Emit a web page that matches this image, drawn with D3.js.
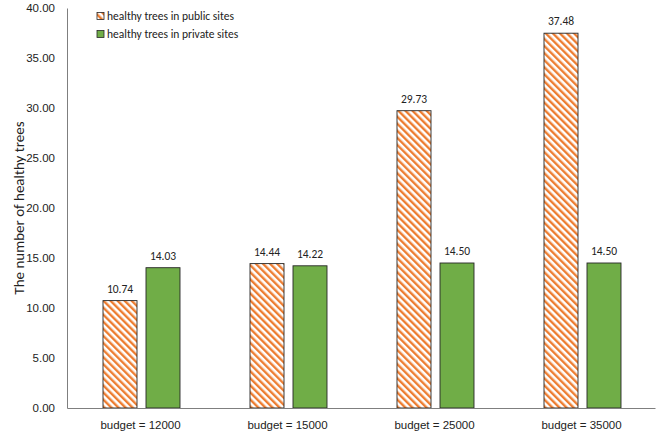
<!DOCTYPE html>
<html lang="en">
<head>
<meta charset="UTF-8">
<title>Healthy trees</title>
<script src="https://cdn.jsdelivr.net/npm/d3@7"></script>
<style>
  body { margin: 0; background: #fff; }
  svg { font-family: Carlito, Calibri, "Liberation Sans", sans-serif; }
</style>
</head>
<body>
<svg id="chart" width="660" height="435"></svg>
<script>
const categories = ['budget = 12000', 'budget = 15000', 'budget = 25000', 'budget = 35000']
const seriesNames = ['healthy trees in public sites', 'healthy trees in private sites']
const publicTrees = [10.74, 14.44, 29.73, 37.48]
const privateTrees = [14.03, 14.22, 14.50, 14.50]
const yTicks = [0, 5, 10, 15, 20, 25, 30, 35, 40]

const margin = { left: 67, right: 5, top: 8, bottom: 27 }
const width = 660, height = 435

const svg = d3.select('#chart')

// hatch for the public bars
const defs = svg.append('defs')
defs.append('pattern')
    .attr('id', 'hatch')
    .attr('patternUnits', 'userSpaceOnUse')
    .attr('width', 5)
    .attr('height', 5)
    .attr('patternTransform', 'rotate(-45)')
  .call(p => {
    p.append('rect').attr('width', 5).attr('height', 5).attr('fill', '#fff')
    p.append('rect').attr('width', 2.4).attr('height', 5).attr('fill', '#ED7D31')
  })

const x = d3.scaleBand()
    .domain(categories)
    .range([margin.left, width - margin.right])

const y = d3.scaleLinear()
    .domain([0, 40])
    .range([height - margin.bottom, margin.top])

const rows = categories.map((c, i) => ({ cat: c, values: [publicTrees[i], privateTrees[i]] }))

const barW = 34, gap = 9
const offset = [-(barW + gap / 2) + 1, gap / 2 + 1]
const fills = ['url(#hatch)', '#70AD47']

// axes
svg.append('g')
    .attr('transform', `translate(${margin.left},0)`)
    .call(d3.axisLeft(y).tickValues(yTicks).tickFormat(d3.format('.2f')).tickSize(0).tickPadding(12))
    .call(g => g.select('.domain').attr('stroke', '#7f7f7f'))
    .call(g => g.selectAll('text').attr('font-size', 11.5).attr('fill', '#222'))

const groups = svg.append('g').selectAll('g')
    .data(rows)
    .join('g')
    .attr('transform', d => `translate(${x(d.cat) + x.bandwidth() / 2},0)`)

groups.selectAll('rect')
    .data(d => d.values)
    .join('rect')
    .attr('x', (d, i) => offset[i])
    .attr('y', d => y(d))
    .attr('width', barW)
    .attr('height', d => y(0) - y(d))
    .attr('fill', (d, i) => fills[i])
    .attr('stroke', '#262626')
    .attr('stroke-width', 0.9)

groups.selectAll('text')
    .data(d => d.values)
    .join('text')
    .attr('x', (d, i) => offset[i] + barW / 2)
    .attr('y', d => y(d) - 8)
    .attr('text-anchor', 'middle')
    .attr('font-size', 11.5)
    .attr('fill', '#222')
    .text(d => d.toFixed(2))

svg.append('g')
    .attr('transform', `translate(0,${height - margin.bottom})`)
    .call(d3.axisBottom(x).tickSize(0).tickPadding(13))
    .call(g => g.select('.domain').attr('stroke', '#7f7f7f'))
    .call(g => g.selectAll('text').attr('font-size', 11.5).attr('fill', '#222'))

// y axis title
svg.append('text')
    .attr('transform', `translate(24,${y(20)}) rotate(-90)`)
    .attr('text-anchor', 'middle')
    .attr('font-size', 15)
    .attr('fill', '#222')
    .text('The number of healthy trees')

// legend
const legend = svg.append('g')
    .selectAll('g')
    .data(seriesNames)
    .join('g')
    .attr('transform', (d, i) => `translate(97,${16 + i * 18})`)

legend.append('rect')
    .attr('x', 0).attr('y', -3.5)
    .attr('width', 7).attr('height', 7)
    .attr('fill', (d, i) => fills[i])
    .attr('stroke', '#262626')
    .attr('stroke-width', 0.8)

legend.append('text')
    .attr('x', 10)
    .attr('dy', '0.35em')
    .attr('font-size', 11.5)
    .attr('fill', '#222')
    .text(d => d)
</script>
</body>
</html>
